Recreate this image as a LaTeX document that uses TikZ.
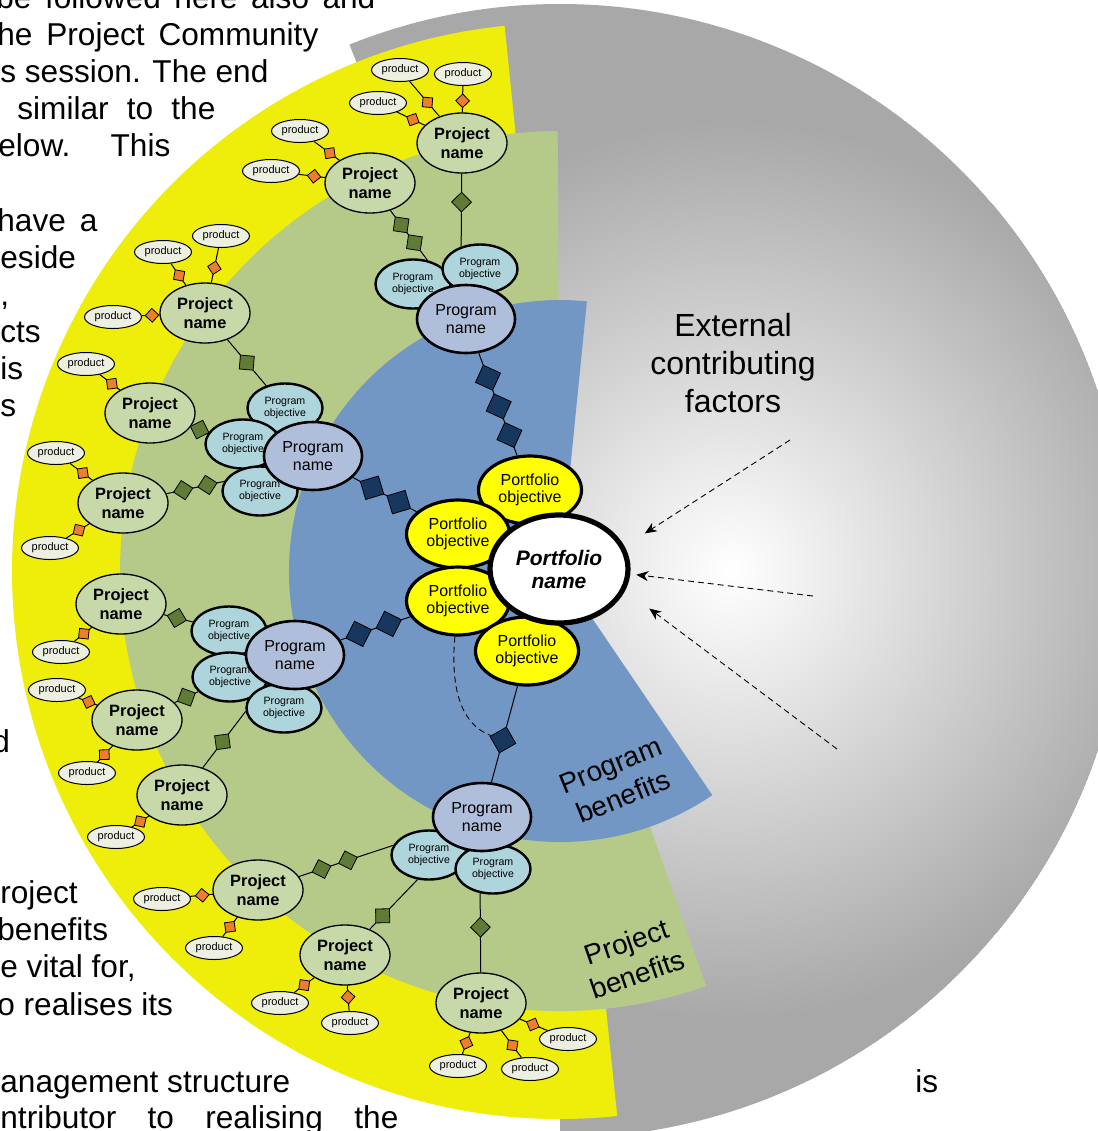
\documentclass[tikz,border=0pt]{standalone}
\usepackage{fontspec}
\setmainfont{Liberation Sans}
\usetikzlibrary{arrows.meta,shapes.geometric}
\definecolor{ringYellow}{HTML}{EFEE0A}
\definecolor{ringGreen}{HTML}{B5CA89}
\definecolor{ringBlue}{HTML}{7297C4}
\definecolor{ballGray}{HTML}{A8A8A8}
\definecolor{pfYellow}{HTML}{FFFF00}
\definecolor{prgFill}{HTML}{AFBFDB}
\definecolor{objFill}{HTML}{AED5DC}
\definecolor{prjFill}{HTML}{C8D9A9}
\definecolor{prodFill}{HTML}{EDEFE1}
\definecolor{mkNavy}{HTML}{17375E}
\definecolor{mkOlive}{HTML}{5F7B35}
\definecolor{mkOrange}{HTML}{EE7D30}

\begin{document}
\begin{tikzpicture}[
  x=0.5pt, y=-0.5pt,
  pagetext/.style={anchor=base west, inner sep=0pt, font=\fontsize{15.8}{18.5}\selectfont},
  bandlabel/.style={align=center, inner sep=0pt, font=\fontsize{14}{17}\selectfont},
  extlabel/.style={align=center, inner sep=0pt, font=\fontsize{16}{19}\selectfont},
  pfname/.style={ellipse, draw, line width=2.6pt, fill=white, minimum width=69pt, minimum height=54pt, inner sep=0pt, align=center, font=\fontsize{10.5}{11.5}\selectfont\bfseries\itshape},
  pfobj/.style={ellipse, draw, line width=1.6pt, fill=pfYellow, minimum width=51.5pt, minimum height=34pt, inner sep=0pt, align=center, font=\fontsize{8}{8.8}\selectfont},
  prgname/.style={ellipse, draw, line width=1.3pt, fill=prgFill, minimum width=49pt, minimum height=34pt, inner sep=0pt, align=center, font=\fontsize{8}{9}\selectfont},
  prgobj/.style={ellipse, draw, line width=1.2pt, fill=objFill, minimum width=37.5pt, minimum height=24.5pt, inner sep=0pt, align=center, font=\fontsize{5.3}{6}\selectfont},
  prjname/.style={ellipse, draw, line width=0.65pt, fill=prjFill, minimum width=45pt, minimum height=30pt, inner sep=0pt, align=center, font=\fontsize{8.2}{9.5}\selectfont\bfseries},
  prod/.style={ellipse, draw, line width=0.5pt, fill=prodFill, minimum width=28.5pt, minimum height=11.5pt, inner sep=0pt, font=\fontsize{5.5}{6}\selectfont},
  navysq/.style={diamond, aspect=1, draw, line width=0.4pt, fill=mkNavy, minimum size=13.5pt, inner sep=0pt, sloped},
  olvsq/.style={diamond, aspect=1, draw, line width=0.4pt, fill=mkOlive, minimum size=10pt, inner sep=0pt, sloped},
  orgsq/.style={diamond, aspect=1, draw, line width=0.4pt, fill=mkOrange, minimum size=7pt, inner sep=0pt, sloped},
  link/.style={draw, line width=0.5pt},
  fwdash/.style={draw, line width=0.45pt, dash pattern=on 3pt off 2pt},
  extarrow/.style={draw, line width=0.45pt, dash pattern=on 3pt off 2pt, -{Stealth[length=6pt, width=5pt]}}
]
\useasboundingbox (0,0) rectangle (1098,1131);
\clip (0,0) rectangle (1098,1131);

% page text behind the figure
\node[pagetext] (t1) at (-4,8) {\makebox[189.5pt][s]{be followed here also and}};
\node[pagetext] (t2) at (-3,45) {\makebox[160.5pt][s]{he Project Community}};
\node[pagetext] (t3) at (0,82) {\makebox[134pt][s]{s session. The end}};
\node[pagetext] (t4) at (17,119) {\makebox[99pt][s]{similar to the}};
\node[pagetext] (t5) at (-2,156) {\makebox[86pt][s]{elow. This}};
\node[pagetext] (t6) at (-3,231) {\makebox[50pt][s]{have a}};
\node[pagetext] (t7) at (0,268) {eside};
\node[pagetext] (t8) at (0,305) {,};
\node[pagetext] (t9) at (0,342) {cts};
\node[pagetext] (t10) at (0,379) {is};
\node[pagetext] (t11) at (0,416) {s};
\node[pagetext] (t12) at (-8,752) {d};
\node[pagetext] (t13) at (0,903) {roject};
\node[pagetext] (t14) at (-3,940) {benefits};
\node[pagetext] (t15) at (0,977) {e vital for,};
\node[pagetext] (t16) at (-3,1015) {o realises its};
\node[pagetext] (t17) at (0,1092) {anagement structure};
\node[pagetext] (t17b) at (915,1092) {is};
\node[pagetext] (t18) at (0,1128) {\makebox[199pt][s]{ntributor to realising the}};

% bands
\coordinate (hub) at (560,571);
\begin{scope}
  \clip (hub) -- ++(-111.8:567) arc[start angle=-111.8, end angle=90, radius=567] -- cycle;
  \fill[ballGray] (hub) circle[radius=567];
  \shade[inner color=white, outer color=ballGray] (730,570) circle[radius=450];
\end{scope}
\fill[ringYellow] (hub) -- ++(84:548) arc[start angle=84, end angle=264.2, radius=548] -- cycle;
\fill[ringGreen] (hub) -- ++(70.6:440) arc[start angle=70.6, end angle=269.7, radius=440] -- cycle;
\fill[ringBlue] (hub) -- ++(55.8:271) arc[start angle=55.8, end angle=275.7, radius=271] -- cycle;

\node[bandlabel, rotate=22] (prgben) at (617,781) {Program\\benefits};
\node[bandlabel, rotate=19] (prjben) at (632,958) {Project\\benefits};
\node[extlabel] (extlab) at (733,363) {External\\contributing\\factors};

% portfolio
\foreach \nm/\x/\y in {pobj1/530/490, pobj2/458/534, pobj3/458/601, pobj4/527/651}
  \node[pfobj] (\nm) at (\x,\y) {Portfolio\\objective};
\node[pfname] (pname) at (559,569) {Portfolio\\name};

% programs
\foreach \nm/\x/\y in {prgTa/413/284, prgTb/480/269, prgLa/285/408, prgLb/243/444, prgLc/260/491,
                       prgMa/229/631, prgMb/230/677, prgMc/284/708, prgBa/429/855, prgBb/493/869}
  \node[prgobj] (\nm) at (\x,\y) {Program\\objective};
\foreach \nm/\x/\y in {prgT/466/319, prgL/313/456, prgM/295/655, prgB/482/817}
  \node[prgname] (\nm) at (\x,\y) {Program\\name};

% projects and products
\foreach \nm/\x/\y in {prjA/462/143, prjB/370/183, prjC/205/313, prjD/150/413, prjE/123/503, prjF/121/604,
                       prjG/137/720, prjH/182/795, prjI/258/890, prjJ/345/955, prjK/481/1003}
  \node[prjname] (\nm) at (\x,\y) {Project\\name};
\foreach \nm/\x/\y in {pdA1/400/70, pdA2/463/74, pdA3/378/103, pdB1/300/131, pdB2/271/171,
                       pdC1/163/252, pdC2/221/236, pdC3/113/317, pdD1/86/364, pdE1/56/453, pdE2/50/548,
                       pdF1/61/652, pdG1/57/690, pdG2/87/773, pdH1/116/837, pdI1/162/899, pdI2/214/948,
                       pdJ1/280/1003, pdJ2/350/1023, pdK1/458/1066, pdK2/530/1069, pdK3/568/1039}
  \node[prod] (\nm) at (\x,\y) {product};

% product links
\foreach \pj/\pd/\t in {prjA/pdA1/.4, prjA/pdA2/.44, prjA/pdA3/.43, prjB/pdB1/.38, prjB/pdB2/.42,
                        prjC/pdC1/.45, prjC/pdC2/.43, prjC/pdC3/.42, prjD/pdD1/.4, prjE/pdE1/.43, prjE/pdE2/.45,
                        prjF/pdF1/.45, prjG/pdG1/.45, prjG/pdG2/.55, prjH/pdH1/.5, prjI/pdI1/.47, prjI/pdI2/.5,
                        prjJ/pdJ1/.5, prjJ/pdJ2/.45, prjK/pdK1/.48, prjK/pdK2/.55, prjK/pdK3/.47}
  \draw[link] (\pj) -- node[orgsq, pos=\t] (m\pd) {} (\pd);

% project links
\draw[link] (prjA) -- node[olvsq, pos=.39] (mA) {} (prgTb.130);
\draw[link] (prjB) -- node[olvsq, pos=.29] (mB1) {} node[olvsq, pos=.65] (mB2) {} (prgTa.59);
\draw[link] (prjC) -- node[olvsq, pos=.5] (mC) {} (prgLa);
\draw[link] (prjD) -- node[olvsq, pos=.5] (mD) {} (prgLb);
\draw[link] (prjE) -- node[olvsq, pos=.29] (mE1) {} node[olvsq, pos=.71] (mE2) {} (prgLc.165);
\draw[link] (prjF) -- node[olvsq, pos=.45] (mF) {} (prgMa);
\draw[link] (prjG) -- node[olvsq, pos=.5] (mG) {} (prgMb);
\draw[link] (prjH) -- node[olvsq, pos=.46] (mH) {} (prgMc.185);
\draw[link] (prjI) -- node[olvsq, pos=.24] (mI1) {} node[olvsq, pos=.52] (mI2) {} (prgBa.165);
\draw[link] (prjJ) -- node[olvsq, pos=.27] (mJ) {} (prgBa.245);
\draw[link] (prjK) -- node[olvsq, pos=.57] (mK) {} (prgBb.242);

% program links
\draw[link] (prgT) -- node[navysq, pos=.24] (mPT1) {} node[navysq, pos=.52] (mPT2) {} node[navysq, pos=.8] (mPT3) {} (pobj1);
\draw[link] (prgL) -- node[navysq, pos=.3] (mPL1) {} node[navysq, pos=.72] (mPL2) {} (pobj2);
\draw[link] (prgM) -- node[navysq, pos=.26] (mPM1) {} node[navysq, pos=.69] (mPM2) {} (pobj3);
\draw[link] (prgB) -- node[navysq, pos=.44] (mPB) {} (pobj4);
\draw[fwdash] (pobj3.265) .. controls (450,690) and (462,725) .. (mPB);

% external factors
\coordinate (ext1) at (790,440);
\coordinate (ext2) at (813,596);
\coordinate (ext3) at (837,749);
\draw[extarrow, shorten >=12pt] (ext1) -- (pname.19);
\draw[extarrow, shorten >=3pt] (ext2) -- (pname.-4.5);
\draw[extarrow, shorten >=15pt] (ext3) -- (pname.-18);
\end{tikzpicture}
\end{document}
